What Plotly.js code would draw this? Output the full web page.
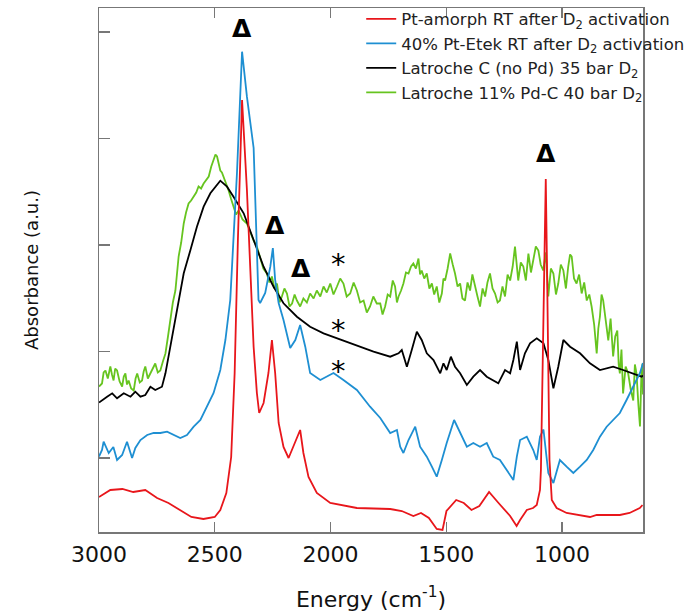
<!DOCTYPE html>
<html>
<head>
<meta charset="utf-8">
<script src="https://cdn.plot.ly/plotly-3.0.1.min.js"></script>
<style>html,body{margin:0;padding:0;background:#fff;}#chart{width:686px;height:614px;}</style>
</head>
<body>
<div id="chart"></div>
<script>
// Series names
const seriesNames = [
  'Pt-amorph RT after D<sub>2</sub> activation',
  '40% Pt-Etek RT after D<sub>2</sub> activation',
  'Latroche C (no Pd) 35 bar D<sub>2</sub>',
  'Latroche 11% Pd-C 40 bar D<sub>2</sub>'
];

// Red: Pt-amorph RT after D2 activation
const redWn = [3000,2951,2899,2852,2800,2749,2700,2649,2601,2549,2500,2476,2450,2429,2414,2400,2382,2361,2347,2332,2318,2308,2289,2268,2253,2239,2224,2203,2181,2160,2131,2117,2095,2059,2001,1886,1742,1692,1642,1609,1575,1541,1516,1499,1457,1424,1391,1357,1315,1274,1224,1196,1181,1152,1125,1109,1095,1091,1082,1076,1070,1065,1060,1054,1044,1023,980,922,879,850,807,750,708,664,652];
const redAbs = [67.5,74.5,75.5,72.5,74.5,66.5,61.5,54.5,47.5,45.5,47.5,54.5,71.5,107.5,191.5,324.5,464.5,374.5,291.5,217.5,171.5,151.5,161.5,191.5,224.5,191.5,141.5,117.5,106.5,117.5,134.5,111.5,87.5,71.5,61.5,56.5,55.5,53.5,48.5,51.5,46.5,35.5,34.5,53.5,64.5,61.5,54.5,58.5,72.5,61.5,48.5,38.5,44.5,54.5,56.5,59.5,74.5,94.5,214.5,304.5,385.5,304.5,214.5,104.5,64.5,56.5,51.5,49.5,47.5,49.5,49.5,49.5,51.5,56.5,59.5];

// Blue: 40% Pt-Etek RT after D2 activation
const blueWn = [3000,2987,2980,2958,2938,2922,2900,2879,2857,2843,2821,2792,2764,2735,2706,2678,2649,2620,2591,2562,2534,2505,2476,2454,2433,2419,2404,2382,2361,2332,2318,2311,2304,2282,2260,2249,2239,2224,2203,2174,2152,2131,2109,2088,2044,1987,1944,1886,1829,1785,1742,1713,1699,1685,1663,1634,1613,1584,1562,1541,1519,1498,1466,1440,1411,1383,1354,1325,1297,1268,1239,1210,1195,1181,1152,1124,1109,1095,1080,1059,1037,1009,980,951,922,893,865,836,807,779,750,721,692,663,650];
const blueAbs = [108,114.5,122.8,111.5,117.5,104.5,109.5,122.8,106.5,116.5,124.5,129.5,131.5,131.5,132.8,129.5,126.5,129.5,137.8,144.5,157.8,171.5,194.5,224.5,264.5,324.5,391.5,512.8,467.8,416.5,324.5,264.5,261.5,271.5,297.8,316.5,284.5,261.5,244.5,216.5,224.5,239.5,217.8,191.5,184.5,191.5,184.5,174.5,157.8,146.5,131.5,134.5,117.8,111.5,124.5,137.8,117.8,107.8,97.8,87.8,104.5,121.5,144.5,131.5,117.8,121.5,117.8,121.5,107.8,104.5,94.5,84.5,107.8,124.5,127.8,114.5,104.5,127.8,135,91.5,81.5,104.5,97.8,91.5,97.8,104.5,114.5,127.8,137.8,144.5,151.5,164.5,177.8,191.5,201.5];

// Black: Latroche C (no Pd) 35 bar D2
const blackWn = [3000,2987,2965,2943,2922,2893,2864,2843,2821,2800,2778,2757,2728,2713,2692,2663,2634,2605,2577,2548,2519,2476,2447,2419,2375,2332,2289,2246,2203,2145,2088,2030,1972,1886,1814,1742,1706,1692,1670,1649,1627,1606,1584,1555,1526,1512,1498,1480,1462,1440,1411,1383,1354,1325,1297,1275,1246,1224,1210,1195,1181,1160,1138,1109,1080,1059,1037,1016,994,965,922,879,836,779,736,692,656,650];
const blackAbs = [162,164.5,167.8,171.2,166.2,171.2,167.8,172.8,167.8,169.5,177.8,174.5,177.8,191.2,217.8,257.8,291.2,314.5,337.8,357.8,371.2,383.8,377.8,367.8,351.2,324.5,297.8,277.8,261.2,247.8,237.8,231.2,226.2,219.5,212.8,207.8,211.2,214.5,197.8,214.5,232.8,224.5,211.2,204.5,191.2,201.2,194.5,207.8,197.8,191.2,179.5,187.8,194.5,187.8,184.5,181.2,194.5,191.2,204.5,222.8,194.5,211.2,221.2,226.2,221.2,204.5,176.2,197.8,224.5,217.8,211.2,201.2,194.5,197.8,194.5,191.2,187.8,189];

// Green: Latroche 11% Pd-C 40 bar D2
const greenWn = [3000,2987,2980,2972,2962,2951,2944,2937,2930,2922,2911,2900,2893,2886,2879,2872,2861,2850,2842,2835,2824,2814,2807,2800,2789,2778,2768,2757,2746,2735,2724,2713,2702,2692,2681,2670,2663,2656,2645,2634,2624,2613,2602,2591,2580,2570,2559,2548,2537,2526,2515,2505,2497,2490,2483,2476,2469,2462,2451,2440,2430,2419,2408,2397,2380,2361,2346,2332,2318,2304,2290,2275,2264,2253,2242,2231,2220,2210,2199,2188,2177,2166,2155,2145,2131,2117,2102,2088,2073,2059,2044,2030,2016,2001,1987,1972,1958,1944,1930,1915,1900,1886,1872,1857,1843,1829,1815,1800,1785,1775,1764,1753,1742,1731,1721,1713,1706,1695,1685,1674,1663,1652,1642,1631,1620,1613,1606,1595,1584,1573,1562,1552,1541,1530,1519,1512,1505,1494,1483,1472,1462,1451,1440,1430,1419,1408,1397,1387,1376,1365,1354,1343,1332,1322,1311,1300,1289,1278,1268,1257,1246,1235,1224,1213,1203,1196,1189,1178,1167,1156,1145,1134,1124,1113,1102,1092,1081,1070,1059,1048,1037,1026,1016,1005,994,983,973,965,958,948,937,926,915,904,893,882,872,861,850,843,836,829,822,811,800,790,779,770,761,755,750,743,736,725,714,703,692,685,678,670,663,657,652,650];
const greenAbs = [178,181,192,194,186,198,190,184,196,194,183,178,188,191,180,184,176,174,186,191,182,184,193,198,186,191,196,201,192,194,203,211,228,244,262,274,292,308,322,341,352,361,364,368,372,378,376,381,384,388,398,404,410,408,400,394,392,388,380,374,366,358,350,354,345,341,332,324,318,308,296,291,282,288,276,281,262,268,276,271,258,261,270,264,258,266,262,271,266,274,268,278,272,281,270,278,286,281,268,271,282,274,262,264,252,258,268,261,261,250,258,270,268,284,278,262,268,274,281,292,291,298,301,296,306,290,294,286,291,276,281,270,278,262,271,286,284,296,311,300,291,278,281,266,264,282,274,290,278,268,258,276,268,282,291,276,271,262,264,278,268,290,284,298,318,300,284,302,298,284,311,292,304,318,314,300,294,312,268,296,291,270,281,300,294,276,298,310,308,286,281,290,271,282,264,270,258,240,211,236,248,270,264,242,224,246,208,228,234,200,191,215,171,198,191,175,164,200,191,160,138,190,201,170];

// Markers written on the chart
const deltaWn = [2382, 2239, 2128, 1070];
const deltaAbs = [536.5, 339.5, 296.5, 411.5];
const starWn = [1967, 1967, 1967];
const starAbs = [307.5, 241.5, 200.5];

const xTicks = [3000, 2500, 2000, 1500, 1000];

const colors = ['#e8161b', '#1e8fd2', '#000000', '#66c41f'];
const font = 'DejaVu Sans, Verdana, sans-serif';

function tr(x, y, i) {
  return {x: x, y: y, type: 'scatter', mode: 'lines', name: seriesNames[i],
          line: {color: colors[i], width: 1.8}, hoverinfo: 'skip'};
}
const data = [
  tr(greenWn, greenAbs, 3),
  tr(blackWn, blackAbs, 2),
  tr(blueWn, blueAbs, 1),
  tr(redWn, redAbs, 0)
];

const annotations = [];
deltaWn.forEach((w, i) => annotations.push({x: w, y: deltaAbs[i], xref: 'x', yref: 'y', text: '<b>Δ</b>', showarrow: false,
  font: {family: font, size: 25, color: '#000'}, xanchor: 'center', yanchor: 'middle'}));
starWn.forEach((w, i) => annotations.push({x: w, y: starAbs[i], xref: 'x', yref: 'y', text: '*', showarrow: false,
  font: {family: font, size: 29, color: '#000'}, xanchor: 'center', yanchor: 'middle', yshift: -7}));

const layout = {
  width: 686, height: 614,
  margin: {l: 99, r: 43, t: 8, b: 82, pad: 0, autoexpand: false},
  paper_bgcolor: '#fff', plot_bgcolor: '#fff',
  font: {family: font, color: '#111'},
  showlegend: true,
  legend: {x: 0.482, y: 1.012, xanchor: 'left', yanchor: 'top', bgcolor: 'rgba(0,0,0,0)', borderwidth: 0,
           traceorder: 'reversed', font: {family: font, size: 16.5, color: '#222'}, itemwidth: 30, tracegroupgap: 0},
  xaxis: {range: [3000, 650], tickvals: xTicks, ticks: 'inside', ticklen: 10, tickcolor: '#777', tickwidth: 1.2,
          showline: true, linecolor: '#777', linewidth: 1.5, mirror: 'ticks', showgrid: false, zeroline: false,
          tickfont: {family: font, size: 22, color: '#111'}, ticklabelstandoff: 2,
          title: {text: 'Energy (cm<sup>-1</sup>)', font: {family: font, size: 22, color: '#111'}, standoff: 25}},
  yaxis: {range: [32.5, 556.5], tick0: 0, dtick: 106.5, ticks: 'inside', ticklen: 11, tickcolor: '#777', tickwidth: 1.2,
          showticklabels: false, showline: true, linecolor: '#777', linewidth: 1.5, mirror: true, showgrid: false, zeroline: false,
          title: {text: 'Absorbance (a.u.)', font: {family: font, size: 18, color: '#111'}, standoff: 54}},
  annotations: annotations
};

Plotly.newPlot('chart', data, layout, {staticPlot: true, displayModeBar: false});
</script>
</body>
</html>
